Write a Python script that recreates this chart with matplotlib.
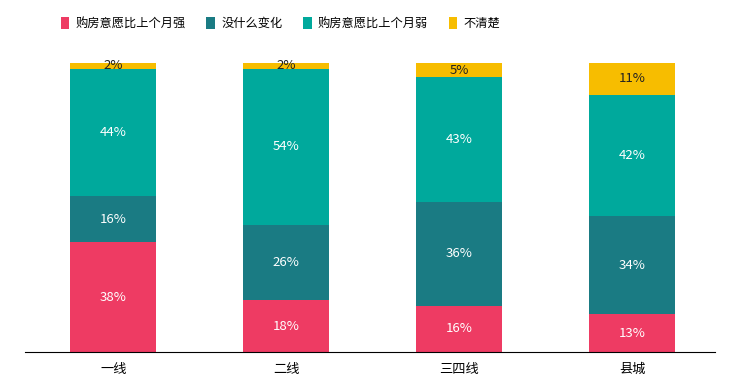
import matplotlib
matplotlib.use("Agg")
import matplotlib.pyplot as plt
import numpy as np

plt.rcParams['font.family'] = ['Noto Sans CJK SC', 'DejaVu Sans']

categories = ['一线', '二线', '三四线', '县城']
series_names = ['购房意愿比上个月强', '没什么变化', '购房意愿比上个月弱', '不清楚']
stronger = [38, 18, 16, 13]
no_change = [16, 26, 36, 34]
weaker = [44, 54, 43, 42]
unknown = [2, 2, 5, 11]

colors = ['#EE3B63', '#1A7B83', '#00A99C', '#F7BD00']
label_colors = ['white', 'white', 'white', '#222222']

fig = plt.figure(figsize=(7.32, 3.91), dpi=100)
ax = fig.add_axes([0.0342, 0.0997, 0.9426, 0.7393])

x = np.arange(len(categories))
data = [stronger, no_change, weaker, unknown]
bottom = np.zeros(len(categories))
handles = []
for vals, name, c, lc in zip(data, series_names, colors, label_colors):
    vals = np.array(vals, dtype=float)
    b = ax.bar(x, vals, 0.5, bottom=bottom, color=c, label=name)
    handles.append(b)
    for xi, v, bt in zip(x, vals, bottom):
        ax.text(xi, bt + v / 2, f'{int(v)}%', ha='center', va='center',
                color=lc, fontsize=9.5)
    bottom += vals

ax.set_xlim(-0.51, 3.48)
ax.set_ylim(0, 100)
ax.set_xticks(x)
ax.set_xticklabels(categories, fontsize=9.5)
ax.tick_params(axis='x', length=0, pad=8)
ax.set_yticks([])
for s in ['top', 'right', 'left']:
    ax.spines[s].set_visible(False)
ax.spines['bottom'].set_color('black')
ax.spines['bottom'].set_linewidth(0.8)

fig.legend(handles, series_names, loc='upper left', bbox_to_anchor=(0.068, 0.985),
           ncol=4, frameon=False, fontsize=8.8, handlelength=0.7, handleheight=1.2,
           handletextpad=0.5, columnspacing=1.7)

fig.savefig('out.png', dpi=100)
